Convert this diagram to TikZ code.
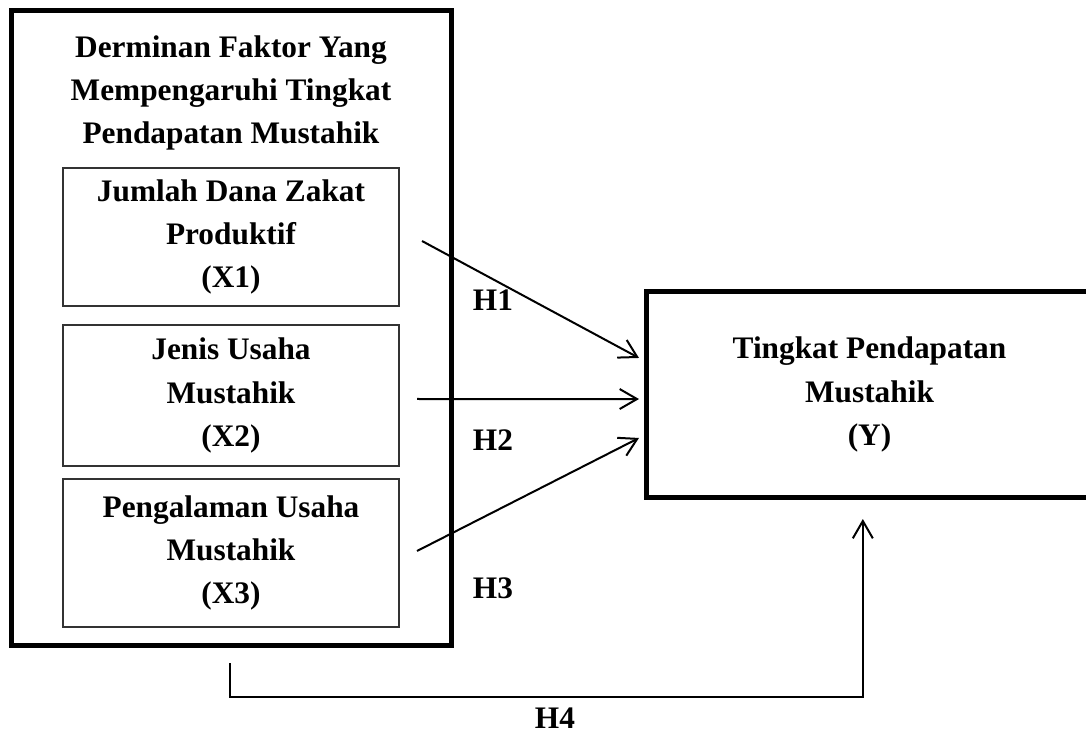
\documentclass[tikz,border=0pt]{standalone}
\usepackage{fontspec}
\setmainfont{Liberation Serif}
\usepackage{tikz}
\usetikzlibrary{arrows.meta,calc,positioning}
\tikzset{
  hyp arc/.style={-{Straight Barb[length=13pt,width=15pt]}, line width=1.5pt,
    draw=black},
  thick frame/.style={draw=black, line width=3.75pt, minimum width=330pt,
    minimum height=475.5pt, inner sep=0pt},
  factor box/.style={draw=black!80, line width=1pt, align=center,
    minimum width=252pt, inner sep=0pt,
    font=\fontsize{23.5}{32.5}\selectfont\bfseries},
  target box/.style={draw=black, line width=3.75pt, align=center,
    minimum width=334pt, minimum height=155pt, inner sep=0pt,
    font=\fontsize{23.5}{32.5}\selectfont\bfseries},
  hyp label/.style={font=\fontsize{23.5}{28}\selectfont\bfseries}
}
\begin{document}
\begin{tikzpicture}[x=0.75pt,y=-0.75pt]
  \useasboundingbox (0,0) rectangle (1086,745);
  \node[thick frame] (outer) at (231.5,328) {};
  \node[align=center, font=\fontsize{23.5}{32.5}\selectfont\bfseries]
    (title) at (231,93)
    {Derminan Faktor Yang\\Mempengaruhi Tingkat\\Pendapatan Mustahik};
  \node[factor box, minimum height=103.5pt] (x1) at (231,237)
    {Jumlah Dana Zakat\\Produktif\\(X1)};
  \node[factor box, minimum height=105.75pt] (x2) at (231,395.5)
    {Jenis Usaha\\Mustahik\\(X2)};
  \node[factor box, minimum height=111pt] (x3) at (231,553)
    {Pengalaman Usaha\\Mustahik\\(X3)};
  \node[target box] (ybox) at (869.5,394.5)
    {Tingkat Pendapatan\\Mustahik\\(Y)};

  \coordinate (h1s) at (422,241);
  \coordinate (h2s) at (417,399);
  \coordinate (h3s) at (417,551);
  \coordinate (h4s) at (230,663);
  \draw[hyp arc] (h1s) -- ([xshift=-4pt,yshift=27.4pt]ybox.west);
  \draw[hyp arc] (h2s) -- ([xshift=-4pt,yshift=-3.4pt]ybox.west);
  \draw[hyp arc] (h3s) -- ([xshift=-4pt,yshift=-32.6pt]ybox.west);
  \draw[hyp arc] (h4s) -- ++(0,34) -| ([xshift=-5pt,yshift=-14pt]ybox.south);

  \node[hyp label] (lh1) at (493,300) {H1};
  \node[hyp label] (lh2) at (493,440) {H2};
  \node[hyp label] (lh3) at (493,588) {H3};
  \node[hyp label] (lh4) at (555,718) {H4};
\end{tikzpicture}
\end{document}
